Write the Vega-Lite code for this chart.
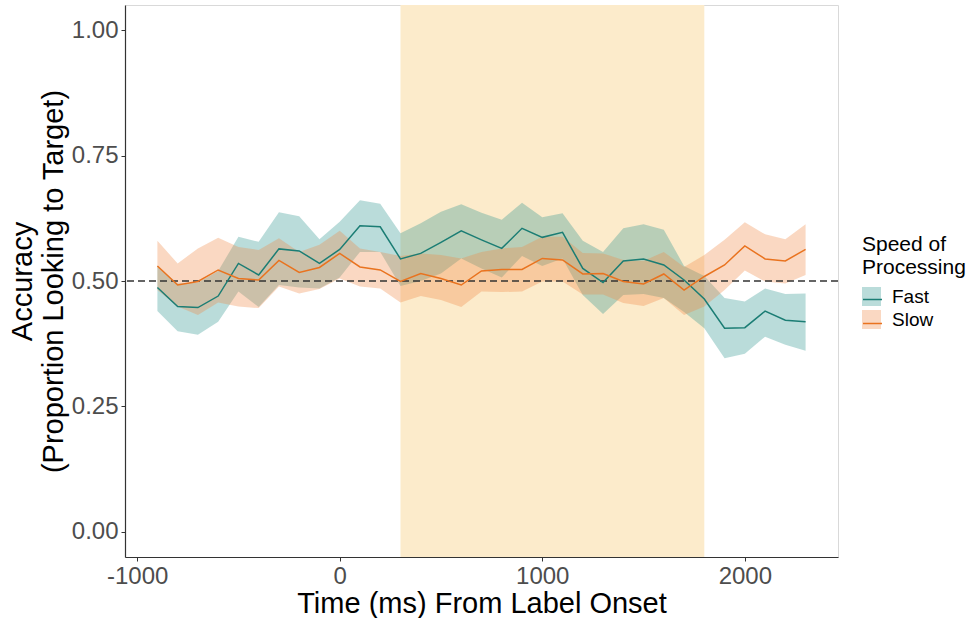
{
  "$schema": "https://vega.github.io/schema/vega-lite/v6.json",
  "width": 713,
  "height": 552,
  "autosize": {"type": "none"},
  "padding": {"left": 125, "top": 5, "right": 139, "bottom": 61},
  "background": "white",
  "config": {
    "font": "Liberation Sans",
    "view": {"stroke": "#d9d9d9", "strokeWidth": 1},
    "axis": {"grid": false, "domainColor": "#333333", "domainWidth": 1.2, "tickColor": "#333333", "tickSize": 4, "labelFontSize": 24, "labelColor": "#4d4d4d", "titleFontSize": 29, "titleFontWeight": "normal", "titleColor": "#000000"}
  },
  "datasets": {
    "band": [{"start": 300, "end": 1800}],
    "ref": [{"level": 0.5}],
    "series": [
      {"time": -900, "speed": "Fast", "mean": 0.487, "lower": 0.440, "upper": 0.530},
      {"time": -800, "speed": "Fast", "mean": 0.449, "lower": 0.400, "upper": 0.495},
      {"time": -700, "speed": "Fast", "mean": 0.447, "lower": 0.393, "upper": 0.497},
      {"time": -600, "speed": "Fast", "mean": 0.470, "lower": 0.419, "upper": 0.520},
      {"time": -500, "speed": "Fast", "mean": 0.535, "lower": 0.479, "upper": 0.588},
      {"time": -400, "speed": "Fast", "mean": 0.512, "lower": 0.448, "upper": 0.578},
      {"time": -300, "speed": "Fast", "mean": 0.564, "lower": 0.492, "upper": 0.637},
      {"time": -200, "speed": "Fast", "mean": 0.560, "lower": 0.487, "upper": 0.629},
      {"time": -100, "speed": "Fast", "mean": 0.535, "lower": 0.485, "upper": 0.583},
      {"time": 0, "speed": "Fast", "mean": 0.563, "lower": 0.507, "upper": 0.618},
      {"time": 100, "speed": "Fast", "mean": 0.610, "lower": 0.558, "upper": 0.661},
      {"time": 200, "speed": "Fast", "mean": 0.608, "lower": 0.558, "upper": 0.654},
      {"time": 300, "speed": "Fast", "mean": 0.544, "lower": 0.490, "upper": 0.595},
      {"time": 400, "speed": "Fast", "mean": 0.555, "lower": 0.500, "upper": 0.615},
      {"time": 500, "speed": "Fast", "mean": 0.577, "lower": 0.515, "upper": 0.638},
      {"time": 600, "speed": "Fast", "mean": 0.600, "lower": 0.545, "upper": 0.653},
      {"time": 700, "speed": "Fast", "mean": 0.582, "lower": 0.525, "upper": 0.636},
      {"time": 800, "speed": "Fast", "mean": 0.565, "lower": 0.507, "upper": 0.622},
      {"time": 900, "speed": "Fast", "mean": 0.605, "lower": 0.550, "upper": 0.656},
      {"time": 1000, "speed": "Fast", "mean": 0.587, "lower": 0.530, "upper": 0.627},
      {"time": 1100, "speed": "Fast", "mean": 0.597, "lower": 0.545, "upper": 0.635},
      {"time": 1200, "speed": "Fast", "mean": 0.525, "lower": 0.472, "upper": 0.580},
      {"time": 1300, "speed": "Fast", "mean": 0.497, "lower": 0.434, "upper": 0.558},
      {"time": 1400, "speed": "Fast", "mean": 0.540, "lower": 0.472, "upper": 0.605},
      {"time": 1500, "speed": "Fast", "mean": 0.544, "lower": 0.474, "upper": 0.613},
      {"time": 1600, "speed": "Fast", "mean": 0.532, "lower": 0.466, "upper": 0.602},
      {"time": 1700, "speed": "Fast", "mean": 0.502, "lower": 0.438, "upper": 0.530},
      {"time": 1800, "speed": "Fast", "mean": 0.464, "lower": 0.406, "upper": 0.510},
      {"time": 1900, "speed": "Fast", "mean": 0.406, "lower": 0.346, "upper": 0.466},
      {"time": 2000, "speed": "Fast", "mean": 0.407, "lower": 0.355, "upper": 0.459},
      {"time": 2100, "speed": "Fast", "mean": 0.440, "lower": 0.389, "upper": 0.485},
      {"time": 2200, "speed": "Fast", "mean": 0.422, "lower": 0.373, "upper": 0.474},
      {"time": 2300, "speed": "Fast", "mean": 0.419, "lower": 0.361, "upper": 0.475},
      {"time": -900, "speed": "Slow", "mean": 0.530, "lower": 0.482, "upper": 0.580},
      {"time": -800, "speed": "Slow", "mean": 0.492, "lower": 0.449, "upper": 0.535},
      {"time": -700, "speed": "Slow", "mean": 0.499, "lower": 0.432, "upper": 0.565},
      {"time": -600, "speed": "Slow", "mean": 0.522, "lower": 0.457, "upper": 0.586},
      {"time": -500, "speed": "Slow", "mean": 0.505, "lower": 0.449, "upper": 0.568},
      {"time": -400, "speed": "Slow", "mean": 0.502, "lower": 0.446, "upper": 0.562},
      {"time": -300, "speed": "Slow", "mean": 0.541, "lower": 0.489, "upper": 0.585},
      {"time": -200, "speed": "Slow", "mean": 0.517, "lower": 0.475, "upper": 0.558},
      {"time": -100, "speed": "Slow", "mean": 0.527, "lower": 0.484, "upper": 0.572},
      {"time": 0, "speed": "Slow", "mean": 0.555, "lower": 0.505, "upper": 0.600},
      {"time": 100, "speed": "Slow", "mean": 0.528, "lower": 0.489, "upper": 0.565},
      {"time": 200, "speed": "Slow", "mean": 0.522, "lower": 0.485, "upper": 0.558},
      {"time": 300, "speed": "Slow", "mean": 0.499, "lower": 0.457, "upper": 0.550},
      {"time": 400, "speed": "Slow", "mean": 0.515, "lower": 0.470, "upper": 0.555},
      {"time": 500, "speed": "Slow", "mean": 0.505, "lower": 0.462, "upper": 0.552},
      {"time": 600, "speed": "Slow", "mean": 0.492, "lower": 0.448, "upper": 0.545},
      {"time": 700, "speed": "Slow", "mean": 0.520, "lower": 0.479, "upper": 0.558},
      {"time": 800, "speed": "Slow", "mean": 0.523, "lower": 0.478, "upper": 0.565},
      {"time": 900, "speed": "Slow", "mean": 0.523, "lower": 0.479, "upper": 0.568},
      {"time": 1000, "speed": "Slow", "mean": 0.545, "lower": 0.499, "upper": 0.588},
      {"time": 1100, "speed": "Slow", "mean": 0.542, "lower": 0.499, "upper": 0.588},
      {"time": 1200, "speed": "Slow", "mean": 0.514, "lower": 0.473, "upper": 0.556},
      {"time": 1300, "speed": "Slow", "mean": 0.515, "lower": 0.473, "upper": 0.555},
      {"time": 1400, "speed": "Slow", "mean": 0.499, "lower": 0.456, "upper": 0.542},
      {"time": 1500, "speed": "Slow", "mean": 0.494, "lower": 0.450, "upper": 0.540},
      {"time": 1600, "speed": "Slow", "mean": 0.514, "lower": 0.466, "upper": 0.558},
      {"time": 1700, "speed": "Slow", "mean": 0.482, "lower": 0.432, "upper": 0.528},
      {"time": 1800, "speed": "Slow", "mean": 0.509, "lower": 0.449, "upper": 0.552},
      {"time": 1900, "speed": "Slow", "mean": 0.532, "lower": 0.482, "upper": 0.582},
      {"time": 2000, "speed": "Slow", "mean": 0.570, "lower": 0.521, "upper": 0.617},
      {"time": 2100, "speed": "Slow", "mean": 0.544, "lower": 0.499, "upper": 0.593},
      {"time": 2200, "speed": "Slow", "mean": 0.540, "lower": 0.495, "upper": 0.583},
      {"time": 2300, "speed": "Slow", "mean": 0.563, "lower": 0.512, "upper": 0.613}
    ]
  },
  "layer": [
    {
      "data": {"name": "band"},
      "mark": {"type": "rect", "color": "#fcebcb"},
      "encoding": {
        "x": {"field": "start", "type": "quantitative", "scale": {"domain": [-1060, 2460], "nice": false, "zero": false}, "axis": {"values": [-1000, 0, 1000, 2000], "labelExpr": "'' + datum.value", "title": "Time (ms) From Label Onset", "labelPadding": 3, "titlePadding": 1}},
        "x2": {"field": "end"}
      }
    },
    {
      "data": {"name": "series"},
      "mark": {"type": "area", "fillOpacity": 0.33},
      "encoding": {
        "x": {"field": "time", "type": "quantitative"},
        "y": {"field": "lower", "type": "quantitative", "scale": {"domain": [-0.05, 1.05], "nice": false, "zero": false}, "axis": {"values": [0, 0.25, 0.5, 0.75, 1], "format": ".2f", "title": ["Accuracy", "(Proportion Looking to Target)"], "labelPadding": 3, "titlePadding": 3, "titleLineHeight": 31}},
        "y2": {"field": "upper"},
        "fill": {"field": "speed", "type": "nominal", "scale": {"range": ["#2e9690", "#ef8a46"]}, "legend": {"orient": "none", "legendX": 737, "legendY": 229, "title": ["Speed of", "Processing"], "titleFontSize": 21, "titleFontWeight": "normal", "titleColor": "#000000", "titleLineHeight": 23, "titlePadding": 9, "labelFontSize": 19, "labelColor": "#000000", "labelOffset": 11, "symbolType": "square", "symbolSize": 361, "symbolStrokeWidth": 0, "symbolOpacity": 0.33, "rowPadding": 3, "padding": 0}}
      }
    },
    {
      "data": {"name": "ref"},
      "mark": {"type": "rule", "color": "#333333", "strokeWidth": 1.3, "strokeDash": [7, 4]},
      "encoding": {"y": {"field": "level", "type": "quantitative"}}
    },
    {
      "data": {"name": "series"},
      "mark": {"type": "line", "strokeWidth": 1.5},
      "encoding": {
        "x": {"field": "time", "type": "quantitative"},
        "y": {"field": "mean", "type": "quantitative"},
        "stroke": {"field": "speed", "type": "nominal", "scale": {"domain": ["Fast", "Slow"], "range": ["#1b7d74", "#e9731f"]}, "legend": {"orient": "none", "legendX": 737, "legendY": 284, "title": null, "labelExpr": "''", "labelFontSize": 19, "labelOffset": 11, "symbolType": "stroke", "symbolSize": 361, "symbolStrokeWidth": 1.5, "rowPadding": 3, "padding": 0}}
      }
    }
  ]
}
